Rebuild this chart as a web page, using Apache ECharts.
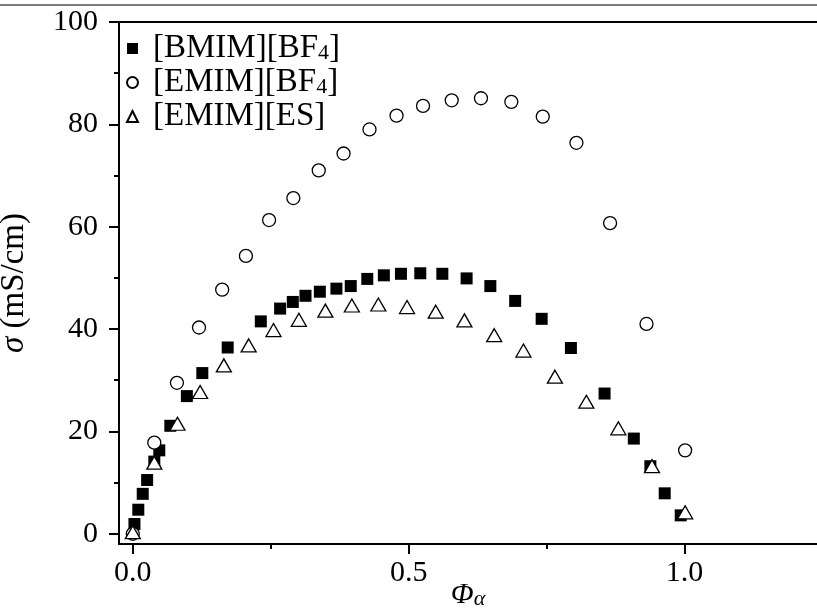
<!DOCTYPE html>
<html>
<head>
<meta charset="utf-8">
<script src="https://cdn.jsdelivr.net/npm/echarts@6/dist/echarts.min.js"></script>
<style>
  html, body { margin: 0; padding: 0; background: #fff; }
  #main { width: 817px; height: 614px; }
</style>
</head>
<body>
<div id="main"></div>
<script>
// Ionic conductivity vs. volume fraction for three ionic liquids
const seriesNames = ['[BMIM][BF4]', '[EMIM][BF4]', '[EMIM][ES]'];

const phiBMIM = [0.003, 0.010, 0.018, 0.026, 0.039, 0.048, 0.068, 0.098, 0.126, 0.172,
                 0.232, 0.267, 0.290, 0.313, 0.339, 0.369, 0.395, 0.425, 0.455, 0.486,
                 0.521, 0.561, 0.605, 0.648, 0.693, 0.741, 0.794, 0.855, 0.908, 0.938,
                 0.964, 0.993];
const sigmaBMIM = [1.9, 4.7, 7.8, 10.5, 14.1, 16.3, 21.1, 26.9, 31.4, 36.4,
                   41.5, 44.0, 45.3, 46.5, 47.3, 47.9, 48.4, 49.8, 50.5, 50.8,
                   50.9, 50.8, 49.9, 48.4, 45.5, 42.0, 36.3, 27.4, 18.6, 13.2,
                   7.9, 3.6];

const phiEMIMBF4 = [0.0, 0.039, 0.080, 0.120, 0.162, 0.205, 0.247, 0.291, 0.337, 0.382,
                    0.429, 0.478, 0.526, 0.578, 0.631, 0.686, 0.743, 0.804, 0.865, 0.931,
                    1.001];
const sigmaEMIMBF4 = [0.0, 17.8, 29.5, 40.3, 47.7, 54.3, 61.3, 65.6, 71.0, 74.3,
                      79.0, 81.7, 83.6, 84.7, 85.1, 84.4, 81.5, 76.4, 60.7, 41.0,
                      16.3];

const phiEMIMES = [0.0, 0.039, 0.081, 0.122, 0.165, 0.210, 0.255, 0.301, 0.349, 0.397,
                   0.445, 0.497, 0.549, 0.601, 0.655, 0.708, 0.765, 0.822, 0.880, 0.941,
                   1.001];
const sigmaEMIMES = [0.3, 13.9, 21.5, 27.7, 32.9, 36.8, 39.8, 41.8, 43.6, 44.6,
                     44.8, 44.3, 43.4, 41.7, 38.8, 35.8, 30.7, 25.8, 20.6, 13.2,
                     4.2];

const xTicks = [0, 0.5, 1.0];
const xTickLabels = ['0.0', '0.5', '1.0'];
const xMinorTicks = [0.25, 0.75];
const yTicks = [0, 20, 40, 60, 80, 100];
const yTickLabels = ['0', '20', '40', '60', '80', '100'];
const yMinorTicks = [10, 30, 50, 70, 90];

const X_MIN = -0.025, X_MAX = 1.24;
const Y_MIN = -2, Y_MAX = 100;
const FONT = '"Liberation Serif", "DejaVu Serif", serif';

function zip(xs, ys) { return xs.map((x, i) => [x, ys[i]]); }
function lookup(ticks, labels) {
  return v => {
    let best = 0;
    ticks.forEach((t, i) => { if (Math.abs(t - v) < Math.abs(ticks[best] - v)) best = i; });
    return labels[best];
  };
}

const axisLineStyle = { color: '#000', width: 2 };
const hidden = { show: false };

function baseX(extra) {
  return Object.assign({
    type: 'value', min: X_MIN, max: X_MAX, gridIndex: 0,
    splitLine: hidden, axisLabel: hidden, axisTick: hidden,
    axisLine: { show: false, onZero: false }
  }, extra);
}
function baseY(extra) {
  return Object.assign({
    type: 'value', min: Y_MIN, max: Y_MAX, gridIndex: 0,
    splitLine: hidden, axisLabel: hidden, axisTick: hidden,
    axisLine: { show: false, onZero: false }
  }, extra);
}

const chart = echarts.init(document.getElementById('main'));

chart.setOption({
  animation: false,
  backgroundColor: '#fff',
  textStyle: { fontFamily: FONT },
  graphic: [{
    type: 'line',
    shape: { x1: 0, y1: 5, x2: 817, y2: 5 },
    style: { stroke: '#7a7a7a', lineWidth: 2 },
    silent: true
  }],
  grid: { left: 119, right: 0, top: 22, bottom: 70, containLabel: false, outerBoundsMode: 'none' },
  xAxis: [
    baseX({
      position: 'bottom',
      axisLine: { show: true, onZero: false, lineStyle: axisLineStyle },
      axisTick: { show: true, customValues: xTicks, length: 10, lineStyle: axisLineStyle },
      axisLabel: {
        show: true, customValues: xTicks, formatter: lookup(xTicks, xTickLabels),
        fontSize: 30, fontFamily: FONT, color: '#000', margin: 14
      },
      name: '{phi|Φ}{a|α}',
      nameLocation: 'middle',
      nameGap: 36,
      nameMoveOverlap: false,
      nameTextStyle: {
        fontFamily: FONT, color: '#000', fontSize: 30,
        rich: {
          phi: { fontFamily: FONT, fontStyle: 'italic', fontSize: 30, color: '#000', lineHeight: 30 },
          a: { fontFamily: FONT, fontStyle: 'italic', fontSize: 22, color: '#000', lineHeight: 8, verticalAlign: 'bottom' }
        }
      }
    }),
    baseX({
      position: 'bottom',
      axisTick: { show: true, customValues: xMinorTicks, length: 5, lineStyle: axisLineStyle }
    }),
    baseX({
      position: 'top',
      axisLine: { show: true, onZero: false, lineStyle: axisLineStyle }
    })
  ],
  yAxis: [
    baseY({
      position: 'left',
      axisLine: { show: true, onZero: false, lineStyle: axisLineStyle },
      axisTick: { show: true, customValues: yTicks, length: 10, lineStyle: axisLineStyle },
      axisLabel: {
        show: true, customValues: yTicks, formatter: lookup(yTicks, yTickLabels),
        fontSize: 30, fontFamily: FONT, color: '#000', margin: 21
      },
      name: '{s|σ} (mS/cm)',
      nameLocation: 'middle',
      nameGap: 88,
      nameRotate: 90,
      nameMoveOverlap: false,
      nameTextStyle: {
        fontFamily: FONT, color: '#000', fontSize: 33,
        rich: {
          s: { fontFamily: FONT, fontStyle: 'italic', fontSize: 33, color: '#000' }
        }
      }
    }),
    baseY({
      position: 'left',
      axisTick: { show: true, customValues: yMinorTicks, length: 5, lineStyle: axisLineStyle }
    })
  ],
  legend: {
    orient: 'vertical',
    left: 126,
    top: 32,
    padding: 0,
    itemGap: 1,
    itemWidth: 11,
    itemHeight: 11,
    data: seriesNames,
    formatter: name => name.replace('BF4', 'BF{sub|4}'),
    textStyle: {
      fontFamily: FONT, fontSize: 33, color: '#000', lineHeight: 32,
      padding: [0, 0, 0, 10],
      rich: {
        sub: { fontFamily: FONT, fontSize: 22, color: '#000', lineHeight: 4, verticalAlign: 'bottom' }
      }
    }
  },
  series: [
    {
      type: 'scatter', name: seriesNames[0],
      data: zip(phiBMIM, sigmaBMIM),
      symbol: 'rect', symbolSize: 12,
      itemStyle: { color: '#000', opacity: 1 },
      z: 2
    },
    {
      type: 'scatter', name: seriesNames[1],
      data: zip(phiEMIMBF4, sigmaEMIMBF4),
      symbol: 'circle', symbolSize: 13,
      itemStyle: { color: '#fff', borderColor: '#000', borderWidth: 1.3, opacity: 1 },
      z: 3
    },
    {
      type: 'scatter', name: seriesNames[2],
      data: zip(phiEMIMES, sigmaEMIMES),
      symbol: 'triangle', symbolSize: [15, 13],
      itemStyle: { color: '#fff', borderColor: '#000', borderWidth: 1.3, opacity: 1 },
      z: 4
    }
  ]
});
</script>
</body>
</html>
